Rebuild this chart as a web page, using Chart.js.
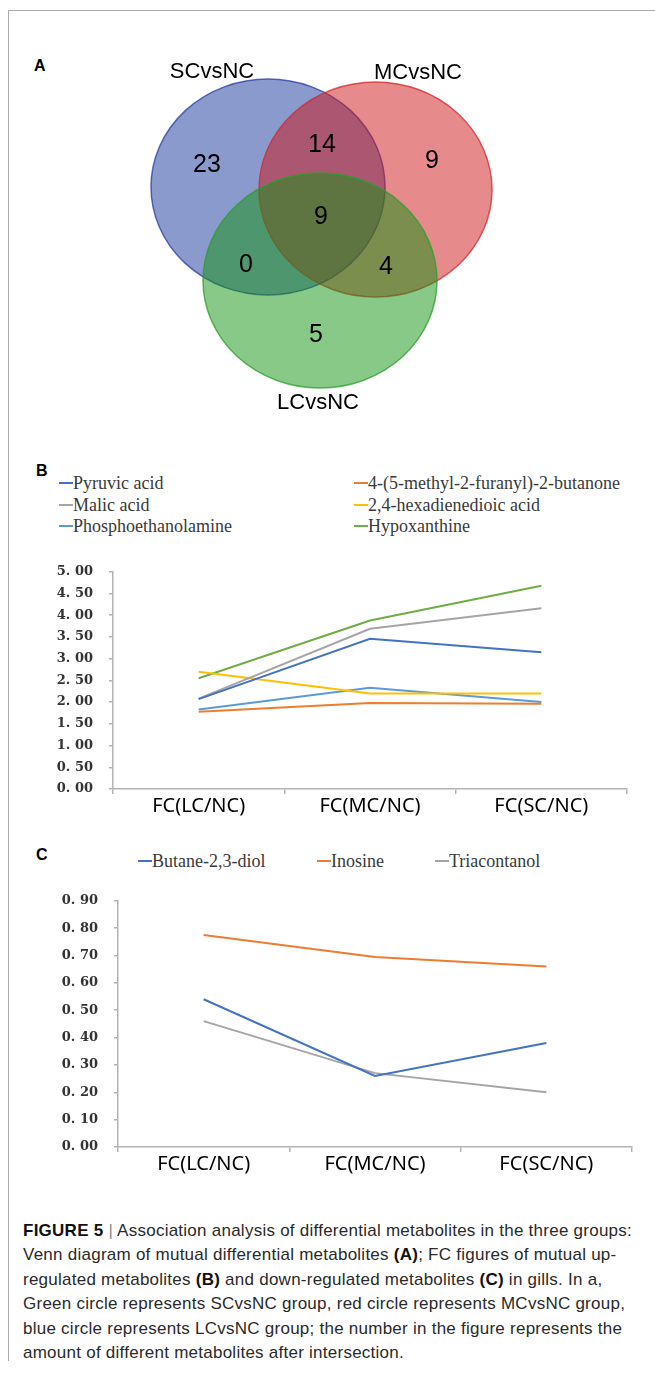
<!DOCTYPE html>
<html>
<head>
<meta charset="utf-8">
<script src="https://cdn.jsdelivr.net/npm/chart.js@4.4.1/dist/chart.umd.min.js"></script>
<style>
  body { margin: 0; background: #fff; width: 655px; height: 1375px; overflow: hidden; position: relative; }
  .frame { position: absolute; left: 8px; top: 10px; width: 700px; height: 1350px; border-top: 1.5px solid #aaa; border-left: 1.5px solid #aaa; }
  canvas { position: absolute; left: 0; }
  .panel { position: absolute; font: bold 16px "Liberation Sans", Arial, sans-serif; color: #000; }
  .lg { position: absolute; font: 18px "Liberation Serif", "Times New Roman", serif; color: #3a3a3a; white-space: nowrap; line-height: 20px; }
  .lg i { display: inline-block; width: 14px; height: 2px; vertical-align: middle; margin-bottom: 3px; }
  .caption { position: absolute; left: 23px; top: 1219px; font: 17px "Liberation Sans Narrow", "Liberation Sans", Arial, sans-serif; letter-spacing: 0.25px; line-height: 24.4px; color: #2a2a2a; white-space: nowrap; }
  .caption b { font-weight: bold; color: #111; }
  .caption .bar { color: #888; }
</style>
</head>
<body>
<div class="frame"></div>
<div class="panel" style="left:34px;top:57px">A</div>
<div class="panel" style="left:36px;top:462px">B</div>
<div class="panel" style="left:36px;top:846px">C</div>

<canvas id="venn" width="655" height="440" style="top:0"></canvas>
<canvas id="chartB" width="655" height="281" style="top:548px"></canvas>
<canvas id="chartC" width="655" height="310" style="top:877px"></canvas>

<div class="caption">
<b>FIGURE 5</b> <span class="bar">|</span> Association analysis of differential metabolites in the three groups:<br>
Venn diagram of mutual differential metabolites <b>(A)</b>; FC figures of mutual up-<br>
regulated metabolites <b>(B)</b> and down-regulated metabolites <b>(C)</b> in gills. In a,<br>
Green circle represents SCvsNC group, red circle represents MCvsNC group,<br>
blue circle represents LCvsNC group; the number in the figure represents the<br>
amount of different metabolites after intersection.
</div>

<script>
// venn data
const setNames = ['SCvsNC', 'MCvsNC', 'LCvsNC'];
// SC only, MC only, LC only, SC&MC, SC&LC, MC&LC, all three
const regionCounts = [23, 9, 5, 14, 0, 4, 9];

// line charts
const categories = ['FC(LC/NC)', 'FC(MC/NC)', 'FC(SC/NC)'];

const upNames = ['Pyruvic acid', '4-(5-methyl-2-furanyl)-2-butanone', 'Malic acid',
  '2,4-hexadienedioic acid', 'Phosphoethanolamine', 'Hypoxanthine'];
const pyruvicAcid = [2.07, 3.46, 3.15];
const methylFuranylButanone = [1.78, 1.98, 1.96];
const malicAcid = [2.08, 3.69, 4.16];
const hexadienedioicAcid = [2.70, 2.20, 2.20];
const phosphoethanolamine = [1.83, 2.33, 2.00];
const hypoxanthine = [2.55, 3.88, 4.68];

const downNames = ['Butane-2,3-diol', 'Inosine', 'Triacontanol'];
const butanediol = [0.54, 0.26, 0.38];
const inosine = [0.775, 0.695, 0.66];
const triacontanol = [0.46, 0.27, 0.20];

const seriesColors = ['#4472C4', '#ED7D31', '#A5A5A5', '#FFC000', '#5B9BD5', '#70AD47'];

// ---- venn layout (canvas pixel units) ----
const vennShapes = [
  { cx: 268, cy: 187, rx: 117, ry: 108, fill: 'rgba(23,53,153,0.5)', stroke: 'rgba(40,60,160,0.75)' },
  { cx: 375.5, cy: 189.5, rx: 116.5, ry: 107.5, fill: 'rgba(205,21,25,0.5)', stroke: 'rgba(210,40,45,0.75)' },
  { cx: 320, cy: 280.5, rx: 117, ry: 107.5, fill: 'rgba(17,147,17,0.5)', stroke: 'rgba(40,160,40,0.75)' }
];
const setLabelPos = [[212, 72], [418, 73], [318, 403]];
const regionPos = [[207, 165], [432, 161], [316, 335], [322, 145], [246, 265], [386, 267], [321, 217]];

const vennPlugin = {
  id: 'venn',
  beforeDatasetsDraw(chart) {
    const { ctx, scales: { x, y } } = chart;
    ctx.save();
    vennShapes.forEach(s => {
      const px = x.getPixelForValue(s.cx), py = y.getPixelForValue(s.cy);
      const rx = Math.abs(x.getPixelForValue(s.cx + s.rx) - px);
      const ry = Math.abs(y.getPixelForValue(s.cy + s.ry) - py);
      ctx.beginPath();
      ctx.ellipse(px, py, rx, ry, 0, 0, Math.PI * 2);
      ctx.fillStyle = s.fill;
      ctx.fill();
      ctx.lineWidth = 1.5;
      ctx.strokeStyle = s.stroke;
      ctx.stroke();
    });
    ctx.restore();
  },
  afterDatasetsDraw(chart) {
    const ctx = chart.ctx;
    ctx.save();
    ctx.fillStyle = '#000';
    ctx.textAlign = 'center';
    ctx.textBaseline = 'middle';
    chart.data.datasets.forEach((ds, di) => {
      const meta = chart.getDatasetMeta(di);
      ctx.font = ds.labelFont;
      meta.data.forEach((pt, i) => ctx.fillText(ds.labels[i], pt.x, pt.y));
    });
    ctx.restore();
  }
};

new Chart(document.getElementById('venn'), {
  type: 'scatter',
  data: {
    datasets: [
      { data: regionPos.map(p => ({ x: p[0], y: p[1] })), labels: regionCounts.map(String),
        labelFont: '25px "Liberation Sans", Arial, sans-serif', pointRadius: 0 },
      { data: setLabelPos.map(p => ({ x: p[0], y: p[1] })), labels: setNames,
        labelFont: '22px "Liberation Sans", Arial, sans-serif', pointRadius: 0 }
    ]
  },
  options: {
    responsive: false,
    animation: false,
    layout: { padding: 0 },
    scales: {
      x: { display: false, min: 0, max: 655 },
      y: { display: false, min: 0, max: 440, reverse: true }
    },
    plugins: { legend: { display: false }, tooltip: { enabled: false } }
  },
  plugins: [vennPlugin]
});

// ---- legends (html) ----
function addLegend(items) {
  items.forEach(it => {
    const d = document.createElement('div');
    d.className = 'lg';
    d.style.left = it.x + 'px';
    d.style.top = (it.y - 10) + 'px';
    d.innerHTML = '<i style="background:' + it.color + '"></i>' + it.name;
    document.body.appendChild(d);
  });
}
addLegend(upNames.map((n, i) => ({ name: n, color: seriesColors[i],
  x: i % 2 === 0 ? 59 : 354, y: 483 + Math.floor(i / 2) * 21.5 })));
addLegend(downNames.map((n, i) => ({ name: n, color: seriesColors[i],
  x: [138, 317, 435][i], y: 861 })));

// ---- line charts ----
const axisColor = '#b3b3b3';
function lineOptions(yMax, yStep, axisW, padRight) {
  return {
    responsive: false,
    animation: false,
    layout: { padding: { top: 20, right: padRight, bottom: 0, left: 0 } },
    scales: {
      x: {
        offset: true,
        grid: { offset: true, drawOnChartArea: false, drawTicks: true, tickLength: 5, color: axisColor, lineWidth: 1.5 },
        border: { color: axisColor, width: 1.5 },
        ticks: { color: '#000', padding: 0, font: { family: '"Noto Sans", sans-serif', size: 20 } },
        afterFit(s) { s.height = 40; }
      },
      y: {
        min: 0, max: yMax,
        grid: { drawOnChartArea: false, drawTicks: true, tickLength: 4, color: axisColor, lineWidth: 1.5 },
        border: { color: axisColor, width: 1.5 },
        ticks: {
          stepSize: yStep, padding: 16, color: '#333',
          font: { family: '"DejaVu Serif", serif', size: 13, weight: 'bold' },
          callback: v => v.toFixed(2).replace('.', '. ')
        },
        afterFit(s) { s.width = axisW; }
      }
    },
    plugins: { legend: { display: false }, tooltip: { enabled: false } },
    elements: { line: { tension: 0, borderWidth: 2 }, point: { radius: 0 } }
  };
}

new Chart(document.getElementById('chartB'), {
  type: 'line',
  data: {
    labels: categories,
    datasets: [pyruvicAcid, methylFuranylButanone, malicAcid, hexadienedioicAcid, phosphoethanolamine, hypoxanthine]
      .map((d, i) => ({ label: upNames[i], data: d, borderColor: seriesColors[i] }))
  },
  options: lineOptions(5, 0.5, 113, 28)
});

new Chart(document.getElementById('chartC'), {
  type: 'line',
  data: {
    labels: categories,
    datasets: [butanediol, inosine, triacontanol]
      .map((d, i) => ({ label: downNames[i], data: d, borderColor: seriesColors[i] }))
  },
  options: lineOptions(0.9, 0.1, 118, 23)
});
</script>
</body>
</html>
